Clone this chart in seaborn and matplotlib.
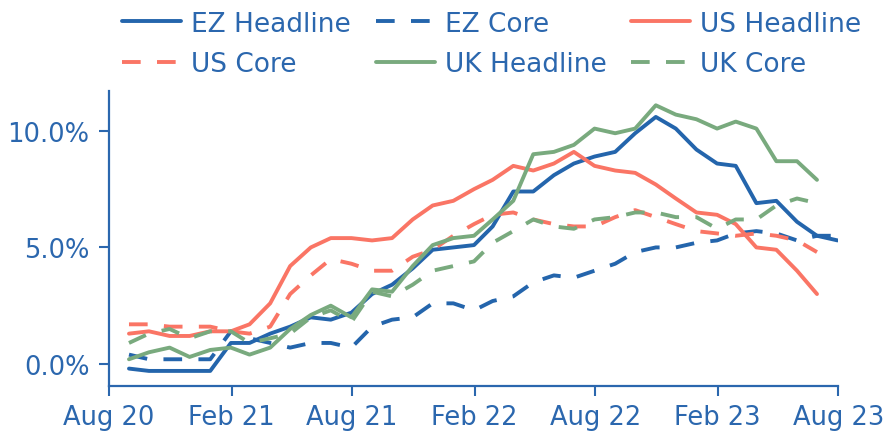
import numpy as np
import pandas as pd
import matplotlib
matplotlib.use("Agg")
import matplotlib.pyplot as plt
import matplotlib.dates as mdates
from matplotlib.ticker import FuncFormatter, FixedLocator
import seaborn as sns

# ---- data (YoY inflation, %) ----
ez_dates = pd.date_range("2020-08-31", periods=36, freq="ME")
other_dates = ez_dates[:35]

ez_headline = [-0.2, -0.3, -0.3, -0.3, -0.3, 0.9, 0.9, 1.3, 1.6, 2.0, 1.9, 2.2,
               3.0, 3.4, 4.1, 4.9, 5.0, 5.1, 5.9, 7.4, 7.4, 8.1, 8.6, 8.9,
               9.1, 9.9, 10.6, 10.1, 9.2, 8.6, 8.5, 6.9, 7.0, 6.1, 5.5, 5.3]
ez_core = [0.4, 0.2, 0.2, 0.2, 0.2, 1.4, 1.1, 0.9, 0.7, 0.9, 0.9, 0.7,
           1.6, 1.9, 2.0, 2.6, 2.6, 2.3, 2.7, 2.9, 3.5, 3.8, 3.7, 4.0,
           4.3, 4.8, 5.0, 5.0, 5.2, 5.3, 5.6, 5.7, 5.6, 5.3, 5.5, 5.5]
us_headline = [1.3, 1.4, 1.2, 1.2, 1.4, 1.4, 1.7, 2.6, 4.2, 5.0, 5.4, 5.4,
               5.3, 5.4, 6.2, 6.8, 7.0, 7.5, 7.9, 8.5, 8.3, 8.6, 9.1, 8.5,
               8.3, 8.2, 7.7, 7.1, 6.5, 6.4, 6.0, 5.0, 4.9, 4.0, 3.0]
us_core = [1.7, 1.7, 1.6, 1.6, 1.6, 1.4, 1.3, 1.6, 3.0, 3.8, 4.5, 4.3,
           4.0, 4.0, 4.6, 4.9, 5.5, 6.0, 6.4, 6.5, 6.2, 6.0, 5.9, 5.9,
           6.3, 6.6, 6.3, 6.0, 5.7, 5.6, 5.5, 5.6, 5.5, 5.3, 4.8]
uk_headline = [0.2, 0.5, 0.7, 0.3, 0.6, 0.7, 0.4, 0.7, 1.5, 2.1, 2.5, 2.0,
               3.2, 3.1, 4.2, 5.1, 5.4, 5.5, 6.2, 7.0, 9.0, 9.1, 9.4, 10.1,
               9.9, 10.1, 11.1, 10.7, 10.5, 10.1, 10.4, 10.1, 8.7, 8.7, 7.9]
uk_core = [0.9, 1.3, 1.5, 1.1, 1.4, 1.4, 0.9, 1.1, 1.3, 2.0, 2.3, 1.8,
           3.1, 2.9, 3.4, 4.0, 4.2, 4.4, 5.2, 5.7, 6.2, 5.9, 5.8, 6.2,
           6.3, 6.5, 6.5, 6.3, 6.3, 5.8, 6.2, 6.2, 6.8, 7.1, 6.9]

series_names = ["EZ Headline", "EZ Core", "US Headline", "US Core", "UK Headline", "UK Core"]
y_ticks = [0, 5, 10]
x_tick_labels = ["Aug 20", "Feb 21", "Aug 21", "Feb 22", "Aug 22", "Feb 23", "Aug 23"]
x_tick_dates = pd.to_datetime(["2020-08-01", "2021-02-01", "2021-08-01", "2022-02-01",
                               "2022-08-01", "2023-02-01", "2023-08-01"])

frames = []
for name, dates, vals in [("EZ Headline", ez_dates, ez_headline),
                          ("EZ Core", ez_dates, ez_core),
                          ("US Headline", other_dates, us_headline),
                          ("US Core", other_dates, us_core),
                          ("UK Headline", other_dates, uk_headline),
                          ("UK Core", other_dates, uk_core)]:
    frames.append(pd.DataFrame({"date": dates, "value": vals, "series": name}))
df = pd.concat(frames, ignore_index=True)

# ---- style ----
BLUE = "#2465ac"
RED = "#fa7565"
GREEN = "#79aa7e"
TEXT = "#2b67ae"
palette = {"EZ Headline": BLUE, "EZ Core": BLUE,
           "US Headline": RED, "US Core": RED,
           "UK Headline": GREEN, "UK Core": GREEN}
dash = (4.8, 4.2)
dashes = {"EZ Headline": "", "EZ Core": dash,
          "US Headline": "", "US Core": dash,
          "UK Headline": "", "UK Core": dash}

sns.set_theme(style="white")
plt.rcParams["font.family"] = ["DejaVu Sans"]

fig = plt.figure(figsize=(8.86, 4.35), dpi=100)
ax = fig.add_axes([109 / 886, 1 - 387.3 / 435, (838.3 - 109) / 886, (387.3 - 92.3) / 435])

sns.lineplot(data=df, x="date", y="value", hue="series", style="series",
             hue_order=series_names, style_order=series_names,
             palette=palette, dashes=dashes, linewidth=2.8, ax=ax, legend=False)

ax.set_xlim(pd.Timestamp("2020-08-01"), pd.Timestamp("2023-08-01"))
ax.set_ylim(-0.96, 11.7)
ax.set_xlabel("")
ax.set_ylabel("")

ax.yaxis.set_major_locator(FixedLocator(y_ticks))
ax.yaxis.set_major_formatter(FuncFormatter(lambda v, p: f"{v:.1f}%"))
ax.set_xticks(x_tick_dates)
ax.set_xticklabels(x_tick_labels)

for side in ["top", "right"]:
    ax.spines[side].set_visible(False)
for side in ["left", "bottom"]:
    ax.spines[side].set_color(TEXT)
    ax.spines[side].set_linewidth(1.6)

ax.tick_params(axis="both", which="major", direction="out", length=7.5, width=1.5,
               color=TEXT, labelcolor=TEXT, labelsize=18.5)
ax.tick_params(axis="y", pad=6.5, left=True)
ax.tick_params(axis="x", pad=5, bottom=True)
ax.grid(False)

# legend (row-major order with 3 columns)
handles = {}
for name in series_names:
    ls = "-" if dashes[name] == "" else (0, dash)
    handles[name] = plt.Line2D([], [], color=palette[name], linewidth=2.8, linestyle=ls)
order = ["EZ Headline", "US Core", "EZ Core", "UK Headline", "US Headline", "UK Core"]
leg = fig.legend([handles[n] for n in order], order, ncol=3, frameon=False,
                 loc="upper left", bbox_to_anchor=(122 / 886, 1 - 11.5 / 435),
                 borderaxespad=0, borderpad=0, fontsize=19,
                 handlelength=2.23, handletextpad=0.38, columnspacing=0.95,
                 labelspacing=0.54)
for t in leg.get_texts():
    t.set_color(TEXT)

fig.savefig("out.png", dpi=100)
